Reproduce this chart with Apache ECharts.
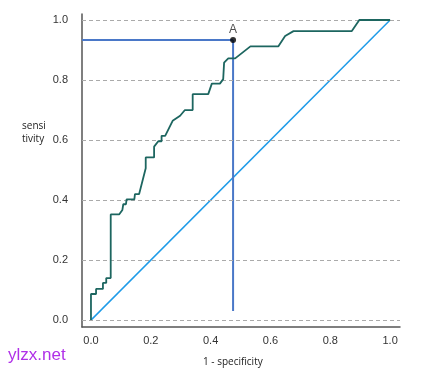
<!DOCTYPE html>
<html>
<head>
<meta charset="utf-8">
<script src="https://cdn.jsdelivr.net/npm/echarts@6/dist/echarts.min.js"></script>
<style>html,body{margin:0;padding:0;background:#fff;}#c{width:432px;height:373px;}</style>
</head>
<body>
<div id="c"></div>
<script>
// ROC curve (1 - specificity, sensitivity)
var rocX = [0, 0, 0.017, 0.017, 0.040, 0.040, 0.051, 0.051, 0.066, 0.066, 0.094, 0.105, 0.108, 0.117, 0.119, 0.145, 0.147, 0.161, 0.183, 0.183, 0.211, 0.211, 0.225, 0.236, 0.236, 0.248, 0.273, 0.298, 0.314, 0.340, 0.340, 0.392, 0.404, 0.431, 0.442, 0.445, 0.459, 0.482, 0.533, 0.626, 0.649, 0.677, 0.872, 0.897, 1.0];
var rocY = [0, 0.087, 0.087, 0.104, 0.104, 0.124, 0.124, 0.140, 0.140, 0.352, 0.352, 0.367, 0.386, 0.386, 0.402, 0.402, 0.420, 0.420, 0.506, 0.542, 0.542, 0.578, 0.596, 0.596, 0.614, 0.614, 0.664, 0.681, 0.700, 0.700, 0.753, 0.753, 0.788, 0.788, 0.803, 0.858, 0.872, 0.872, 0.912, 0.912, 0.947, 0.963, 0.963, 1.0, 1.0];
// reference diagonal
var diagX = [0, 1];
var diagY = [0, 1];
// cut-off point A
var pointA = [0.475, 0.933];
var pointALabel = 'A';
var vLineBottom = 0.03;
// tick labels
var xTicks = [0, 0.2, 0.4, 0.6, 0.8, 1.0];
var yTicks = [0, 0.2, 0.4, 0.6, 0.8, 1.0];
var xMin = -0.03, xMax = 1.033, yMin = -0.023, yMax = 1.02;

function pairs(xs, ys) { return xs.map(function (x, i) { return [x, ys[i]]; }); }

var chart = echarts.init(document.getElementById('c'), null, { renderer: 'canvas' });
var font = 'Liberation Sans, Arial, sans-serif';
chart.setOption({
  animation: false,
  backgroundColor: '#fff',
  grid: { left: 82, right: 32, top: 14, bottom: 46, containLabel: false },
  xAxis: {
    type: 'value', min: xMin, max: xMax,
    axisLine: { show: true, onZero: false, lineStyle: { color: '#555', width: 1.5 } },
    axisTick: { show: false },
    splitLine: { show: false },
    axisLabel: { customValues: xTicks, formatter: function (v) { return v.toFixed(1); }, color: '#333', fontSize: 11, fontFamily: font, margin: 8 }
  },
  yAxis: {
    type: 'value', min: yMin, max: yMax,
    axisLine: { show: true, onZero: false, lineStyle: { color: '#555', width: 1.5 } },
    axisTick: { show: false },
    splitLine: { show: false },
    axisLabel: { customValues: yTicks, formatter: function (v) { return v.toFixed(1); }, color: '#333', fontSize: 11, fontFamily: font, margin: 14 }
  },
  series: [
    {
      type: 'line', data: [], silent: true,
      markLine: {
        silent: true, symbol: 'none', label: { show: false },
        lineStyle: { color: '#aaa', type: [4, 3], width: 1 },
        data: yTicks.map(function (v) { return { yAxis: v }; })
      }
    },
    {
      type: 'line', data: pairs(diagX, diagY), showSymbol: false,
      lineStyle: { color: '#1e9be8', width: 1.5 }, z: 3
    },
    {
      type: 'line', data: [[xMin, pointA[1]], pointA], showSymbol: false,
      lineStyle: { color: '#4a78c8', width: 2 }, z: 4
    },
    {
      type: 'line', data: [[pointA[0], vLineBottom], pointA], showSymbol: false,
      lineStyle: { color: '#4a78c8', width: 2 }, z: 4
    },
    {
      type: 'line', data: pairs(rocX, rocY), showSymbol: false,
      lineStyle: { color: '#1d6660', width: 1.8 }, z: 5
    },
    {
      type: 'scatter', data: [pointA], symbolSize: 6,
      itemStyle: { color: '#000' }, z: 6,
      label: { show: true, position: 'top', distance: 1, formatter: pointALabel, color: '#222', fontSize: 12, fontFamily: font }
    }
  ],
  graphic: [
    { type: 'text', left: 22, top: 120, style: { text: 'sensi\ntivity', font: '10px "Open Sans", sans-serif', fill: '#222', lineHeight: 13 } },
    { type: 'text', left: 203, top: 357, style: { text: '1 - specificity', font: '10px "Open Sans", sans-serif', fill: '#222' } },
    { type: 'text', left: 8, top: 347, style: { text: 'ylzx.net', font: '17px "Liberation Sans", Arial, sans-serif', fill: '#b030e8' } }
  ]
});
</script>
</body>
</html>
